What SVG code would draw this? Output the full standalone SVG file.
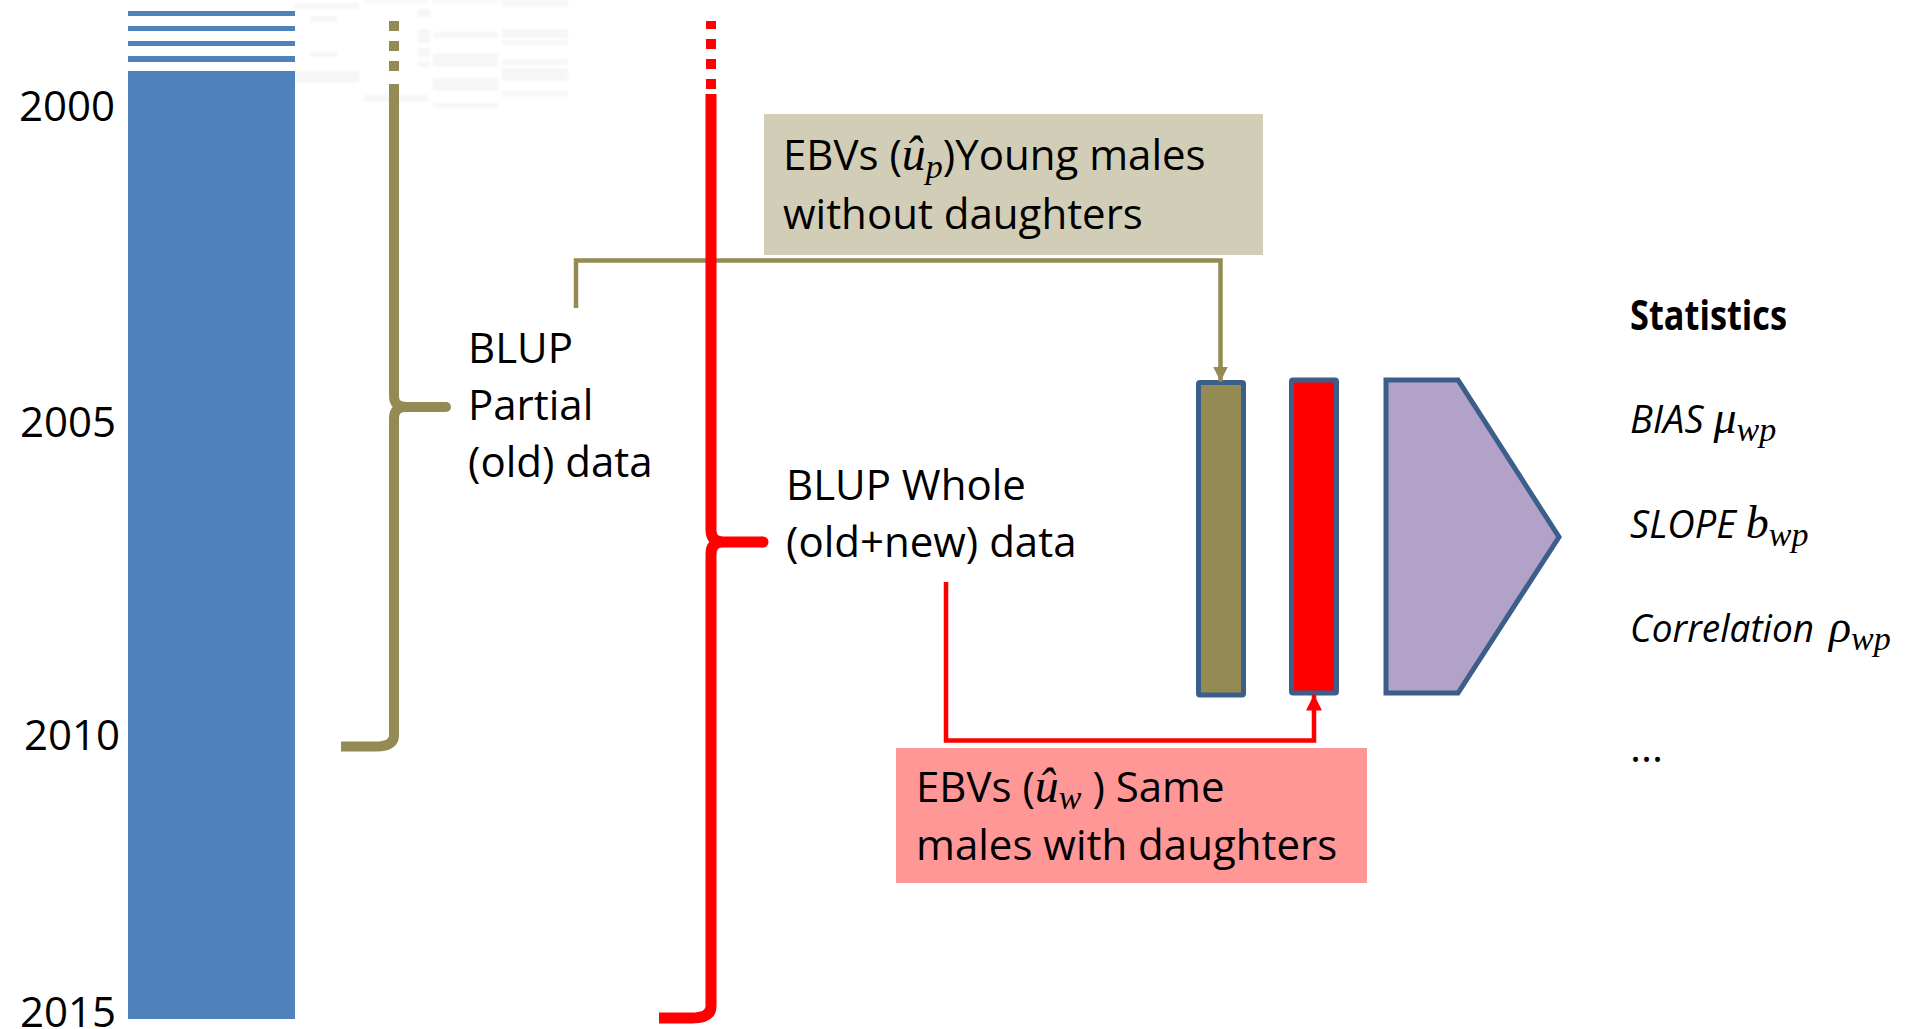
<svg xmlns="http://www.w3.org/2000/svg" width="1907" height="1029" viewBox="0 0 1907 1029">
  <defs>
    <style>
      .t { font-family: "Open Sans", "Liberation Sans", sans-serif; font-size: 42px; fill: #000000; }
      .m { font-family: "Liberation Serif", "DejaVu Serif", serif; font-style: italic; }
      .stat { font-family: "Open Sans", "Liberation Sans", sans-serif; font-size: 38px; font-style: italic; fill: #000000; }
      .olive { stroke: #948A54; fill: none; }
      .red { stroke: #FF0000; fill: none; }
      .bar { stroke: #3B5E8B; stroke-width: 5; }
      .smudge { fill: #ededed; opacity: 0.5; }
    </style>
    <filter id="soft" x="-20%" y="-50%" width="140%" height="200%">
      <feGaussianBlur stdDeviation="1.3"/>
    </filter>
    <marker id="arrOlive" markerUnits="userSpaceOnUse" markerWidth="16" markerHeight="16" refX="15" refY="7.5" orient="auto">
      <path d="M0,0 L15,7.5 L0,15 z" fill="#948A54"/>
    </marker>
    <marker id="arrRed" markerUnits="userSpaceOnUse" markerWidth="17" markerHeight="17" refX="16" refY="8" orient="auto">
      <path d="M0,0 L16,8 L0,16 z" fill="#FF0000"/>
    </marker>
  </defs>

  <rect x="0" y="0" width="1907" height="1029" fill="#ffffff"/>

  <!-- faint leftovers at the top edge -->
  <g id="smudges" filter="url(#soft)">
    <rect class="smudge" x="294" y="3" width="65" height="6"/>
    <rect class="smudge" x="310" y="16" width="27" height="6"/>
    <rect class="smudge" x="364" y="0" width="64" height="3"/>
    <rect class="smudge" x="418" y="9" width="12" height="8"/>
    <rect class="smudge" x="418" y="29" width="12" height="14"/>
    <rect class="smudge" x="418" y="48" width="12" height="9"/>
    <rect class="smudge" x="418" y="61" width="12" height="6"/>
    <rect class="smudge" x="433" y="0" width="65" height="3"/>
    <rect class="smudge" x="433" y="32" width="65" height="6"/>
    <rect class="smudge" x="433" y="53" width="65" height="14"/>
    <rect class="smudge" x="433" y="78" width="65" height="13"/>
    <rect class="smudge" x="433" y="103" width="65" height="5"/>
    <rect class="smudge" x="502" y="0" width="66" height="7"/>
    <rect class="smudge" x="502" y="29" width="66" height="9"/>
    <rect class="smudge" x="502" y="40" width="66" height="5"/>
    <rect class="smudge" x="502" y="59" width="66" height="6"/>
    <rect class="smudge" x="502" y="68" width="66" height="13"/>
    <rect class="smudge" x="502" y="91" width="66" height="5"/>
    <rect class="smudge" x="310" y="52" width="27" height="5"/>
    <rect class="smudge" x="294" y="71" width="65" height="12" opacity="0.3"/>
    <rect class="smudge" x="364" y="95" width="64" height="7"/>
  </g>

  <!-- timeline bar -->
  <g id="timeline" fill="#4F81BD">
    <rect x="128" y="11" width="167" height="5"/>
    <rect x="128" y="26" width="167" height="5"/>
    <rect x="128" y="41" width="167" height="5"/>
    <rect x="128" y="56" width="167" height="6"/>
    <rect x="128" y="71" width="167" height="948"/>
  </g>

  <!-- year labels -->
  <g id="years" class="t">
    <text x="19" y="121">2000</text>
    <text x="20" y="437">2005</text>
    <text x="24" y="750">2010</text>
    <text x="20" y="1027">2015</text>
  </g>

  <!-- labels next to the braces -->
  <g id="label-partial" class="t">
    <text x="468" y="363">BLUP</text>
    <text x="468" y="420">Partial</text>
    <text x="468" y="477">(old) data</text>
  </g>
  <g id="label-whole" class="t">
    <text x="786" y="500">BLUP Whole</text>
    <text x="786" y="557">(old+new) data</text>
  </g>

  <!-- EBV boxes -->
  <g id="box-young">
    <rect x="764" y="114" width="499" height="141" fill="#D2CDB6"/>
    <text class="t" x="783" y="170">EBVs (<tspan class="m" font-size="48">û</tspan><tspan class="m" font-size="34" dy="8">p</tspan><tspan dy="-8">)Young males</tspan></text>
    <text class="t" x="783" y="229">without daughters</text>
  </g>
  <g id="box-same">
    <rect x="896" y="748" width="471" height="135" fill="#FF9797"/>
    <text class="t" x="916" y="802">EBVs (<tspan class="m" font-size="48">û</tspan><tspan class="m" font-size="34" dy="7">w</tspan><tspan dy="-7">  ) Same</tspan></text>
    <text class="t" x="916" y="860">males with daughters</text>
  </g>

  <!-- result columns -->
  <g id="col-partial">
    <rect class="bar" x="1198.5" y="382.5" width="45" height="312.5" rx="1.5" fill="#948A54"/>
  </g>
  <g id="col-whole">
    <rect class="bar" x="1291.5" y="380" width="45" height="313" rx="1.5" fill="#FF0000"/>
  </g>
  <g id="compare">
    <polygon class="bar" points="1386,380 1458,380 1559,537 1458,693 1386,693" fill="#B2A2C7" stroke-linejoin="miter"/>
  </g>

  <!-- connectors -->
  <g id="connectors" stroke-width="4.5" fill="none">
    <path class="olive" d="M576,308 V260.5 H1220.5 V381.5" marker-end="url(#arrOlive)"/>
    <path class="red" d="M946,582 V740.5 H1314 V694.5" marker-end="url(#arrRed)"/>
  </g>

  <!-- brace for the partial data -->
  <g id="brace-partial">
    <g fill="#948A54">
      <rect x="389" y="21" width="10" height="10"/>
      <rect x="389" y="41" width="10" height="10"/>
      <rect x="389" y="61" width="10" height="10"/>
    </g>
    <path class="olive" stroke-width="10" d="M394,84 V396 Q394,407 406,407 H446 M406,407 Q394,407 394,418 V735 Q394,746.5 376,746.5 H341"/>
    <circle cx="446" cy="407" r="5" fill="#948A54"/>
  </g>

  <!-- brace for the whole data -->
  <g id="brace-whole">
    <g fill="#FF0000">
      <rect x="706" y="21" width="10" height="8"/>
      <rect x="706" y="39" width="10" height="10"/>
      <rect x="706" y="59" width="10" height="10"/>
      <rect x="706" y="79" width="10" height="10"/>
    </g>
    <path class="red" stroke-width="11" d="M711,94 V530 Q711,542 723,542 H763 M723,542 Q711,542 711,554 V1006 Q711,1018 692,1018 H659"/>
    <circle cx="763" cy="542" r="5.5" fill="#FF0000"/>
  </g>

  <!-- statistics list -->
  <g id="statistics">
    <text class="t" x="1630" y="330" font-size="35" font-weight="bold" textLength="157" lengthAdjust="spacingAndGlyphs">Statistics</text>
    <text class="stat" x="1630" y="433">BIAS <tspan class="m" font-size="46">μ</tspan><tspan class="m" font-size="34" dy="8">wp</tspan></text>
    <text class="stat" x="1630" y="538">SLOPE <tspan class="m" font-size="46">b</tspan><tspan class="m" font-size="34" dy="8">wp</tspan></text>
    <text class="stat" x="1630" y="642" textLength="184" lengthAdjust="spacingAndGlyphs">Correlation</text>
    <text x="1829" y="642"><tspan class="m" font-size="46">ρ</tspan><tspan class="m" font-size="34" dy="8">wp</tspan></text>
    <text class="t" x="1630" y="762" font-size="37">...</text>
  </g>
</svg>
